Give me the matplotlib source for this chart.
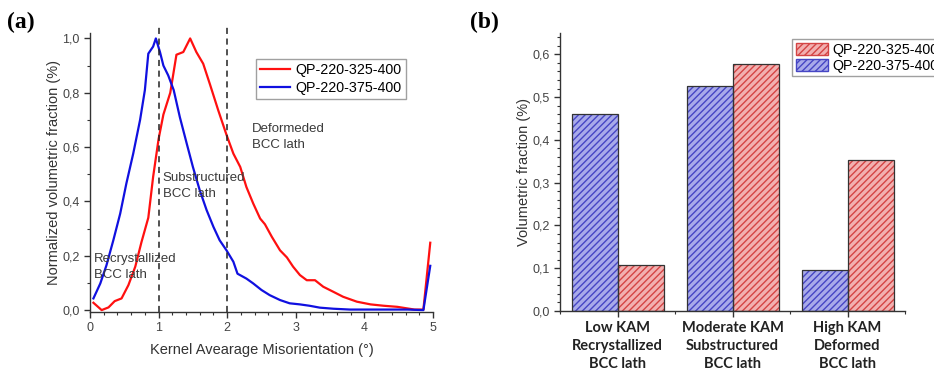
import matplotlib
matplotlib.use("Agg")
import matplotlib.pyplot as plt
import numpy as np
from matplotlib.patches import Patch
from matplotlib.ticker import FuncFormatter, MultipleLocator

# (a) KAM distributions
kam_325 = [0.05, 0.17, 0.27, 0.36, 0.46, 0.56, 0.66, 0.75, 0.85, 0.92, 1.00, 1.07,
           1.17, 1.26, 1.36, 1.46, 1.55, 1.65, 1.75, 1.87, 1.99, 2.09, 2.19, 2.28,
           2.38, 2.48, 2.55, 2.65, 2.77, 2.87, 2.96, 3.06, 3.16, 3.28, 3.40, 3.55,
           3.69, 3.89, 4.09, 4.28, 4.48, 4.63, 4.73, 4.86, 4.96]
frac_325 = [0.027, 0.0, 0.01, 0.033, 0.043, 0.092, 0.16, 0.25, 0.34, 0.49, 0.63, 0.72,
            0.80, 0.94, 0.95, 1.0, 0.95, 0.907, 0.83, 0.735, 0.645, 0.576, 0.527, 0.453,
            0.392, 0.337, 0.316, 0.27, 0.22, 0.194, 0.16, 0.129, 0.11, 0.11, 0.086, 0.067,
            0.049, 0.031, 0.021, 0.016, 0.012, 0.006, 0.002, 0.002, 0.248]

kam_375 = [0.05, 0.15, 0.24, 0.34, 0.44, 0.53, 0.63, 0.73, 0.80, 0.85, 0.92, 0.96,
           1.02, 1.07, 1.14, 1.22, 1.31, 1.41, 1.50, 1.60, 1.70, 1.80, 1.89, 1.99,
           2.09, 2.15, 2.28, 2.38, 2.50, 2.62, 2.77, 2.91, 3.06, 3.20, 3.35, 3.55,
           3.79, 4.04, 4.33, 4.63, 4.86, 4.96]
frac_375 = [0.043, 0.098, 0.165, 0.257, 0.355, 0.466, 0.576, 0.70, 0.81, 0.944, 0.97, 1.0,
            0.95, 0.90, 0.864, 0.81, 0.71, 0.613, 0.527, 0.441, 0.368, 0.306, 0.257, 0.22,
            0.178, 0.134, 0.116, 0.098, 0.074, 0.055, 0.037, 0.025, 0.021, 0.016, 0.009, 0.005,
            0.002, 0.002, 0.002, 0.002, 0.0, 0.163]

kam_bounds = [1, 2]
zone_labels = ["Recrystallized\nBCC lath", "Substructured\nBCC lath", "Deformeded\nBCC lath"]
zone_x = [0.06, 1.06, 2.36]
zone_y = [0.21, 0.51, 0.69]

# (b) volumetric fraction per KAM class
categories = ["Low KAM\nRecrystallized\nBCC lath",
              "Moderate KAM\nSubstructured\nBCC lath",
              "High KAM\nDeformed\nBCC lath"]
vol_325 = [0.107, 0.577, 0.352]
vol_375 = [0.460, 0.525, 0.095]

name_325 = "QP-220-325-400"
name_375 = "QP-220-375-400"

plt.rcParams["font.family"] = ["Liberation Sans", "DejaVu Sans"]
plt.rcParams["hatch.linewidth"] = 1.0

comma = FuncFormatter(lambda v, p: f"{v:.1f}".replace(".", ","))
txt_col = "#333333"

fig = plt.figure(figsize=(9.34, 3.70), dpi=100)

# ---------------- (a)
ax1 = fig.add_axes([90 / 934, 58 / 370, 343 / 934, 279 / 370])
ax1.plot(kam_325, frac_325, color="#ff1010", lw=1.6, label=name_325)
ax1.plot(kam_375, frac_375, color="#1010e0", lw=1.6, label=name_375)
for b in kam_bounds:
    ax1.axvline(b, ymin=0, ymax=1.02, color="#222222", lw=1.1, ls=(0, (4, 3)), clip_on=False)
for s, x, y in zip(zone_labels, zone_x, zone_y):
    ax1.text(x, y, s, fontsize=9.5, color="#3a3a3a", va="top", ha="left", linespacing=1.45)

ax1.set_xlim(0, 5)
ax1.set_ylim(-0.007, 1.02)
ax1.xaxis.set_major_locator(MultipleLocator(1))
ax1.xaxis.set_minor_locator(MultipleLocator(0.2))
ax1.yaxis.set_major_locator(MultipleLocator(0.2))
ax1.yaxis.set_minor_locator(MultipleLocator(0.1))
ax1.yaxis.set_major_formatter(comma)
ax1.set_xlabel("Kernel Avearage Misorientation (°)", fontsize=10.5, color=txt_col, labelpad=6)
ax1.set_ylabel("Normalized volumetric fraction (%)", fontsize=10.5, color=txt_col, labelpad=1)
ax1.legend(loc="upper left", bbox_to_anchor=(256 / 934, 1 - 59 / 370),
           bbox_transform=fig.transFigure, fontsize=10.3, frameon=True, fancybox=False,
           edgecolor="#888888", handlelength=2.1, handletextpad=0.35, borderpad=0.3,
           labelspacing=0.25, borderaxespad=0)

# ---------------- (b)
ax2 = fig.add_axes([560 / 934, 59 / 370, 345 / 934, 278 / 370])
pos = np.arange(len(categories))
w = 0.4
blue_face, blue_hatch = "#a8aaea", "#4646c4"
red_face, red_hatch = "#f2b0b0", "#d44444"
ax2.bar(pos - w / 2, vol_375, w, color=blue_face, edgecolor=blue_hatch, hatch="/////", lw=0)
ax2.bar(pos + w / 2, vol_325, w, color=red_face, edgecolor=red_hatch, hatch="/////", lw=0)
ax2.bar(pos - w / 2, vol_375, w, fill=False, edgecolor="#333333", lw=0.9)
ax2.bar(pos + w / 2, vol_325, w, fill=False, edgecolor="#333333", lw=0.9)

ax2.set_xlim(-0.5, 2.5)
ax2.set_ylim(0, 0.65)
ax2.set_xticks(pos)
ax2.set_xticklabels(categories, fontfamily="Lato", fontweight="bold", fontsize=10.5,
                    color="#222222", linespacing=1.35)
ax2.xaxis.set_minor_locator(MultipleLocator(0.5))
ax2.yaxis.set_major_locator(MultipleLocator(0.1))
ax2.yaxis.set_minor_locator(MultipleLocator(0.02))
ax2.yaxis.set_major_formatter(comma)
ax2.set_ylabel("Volumetric fraction (%)", fontsize=10.5, color=txt_col, labelpad=1)
handles = [Patch(facecolor=red_face, edgecolor=red_hatch, hatch="/////", label=name_325),
           Patch(facecolor=blue_face, edgecolor=blue_hatch, hatch="/////", label=name_375)]
ax2.legend(handles=handles, loc="upper left", bbox_to_anchor=(792 / 934, 1 - 39 / 370),
           bbox_transform=fig.transFigure, fontsize=10.3, frameon=True, fancybox=False,
           edgecolor="#888888", handlelength=2.3, handleheight=0.9, handletextpad=0.3,
           borderpad=0.25, labelspacing=0.15, borderaxespad=0)

for ax in (ax1, ax2):
    for sp in ("top", "right"):
        ax.spines[sp].set_visible(False)
    for sp in ("left", "bottom"):
        ax.spines[sp].set_color("#333333")
        ax.spines[sp].set_linewidth(1.0)
    ax.tick_params(which="major", direction="out", length=4, width=1.0, colors="#333333",
                   labelsize=9, labelcolor="#444444")
    ax.tick_params(which="minor", direction="out", length=2.5, width=0.8, colors="#333333")
ax2.tick_params(axis="x", which="major", labelsize=10.5, labelcolor="#222222")

fig.text(7 / 934, 1 - 22 / 370, "(a)", fontfamily="Liberation Serif", fontweight="bold",
         fontsize=17, va="center", ha="left")
fig.text(470 / 934, 1 - 22 / 370, "(b)", fontfamily="Liberation Serif", fontweight="bold",
         fontsize=17, va="center", ha="left")

fig.savefig("out.png", dpi=100)
